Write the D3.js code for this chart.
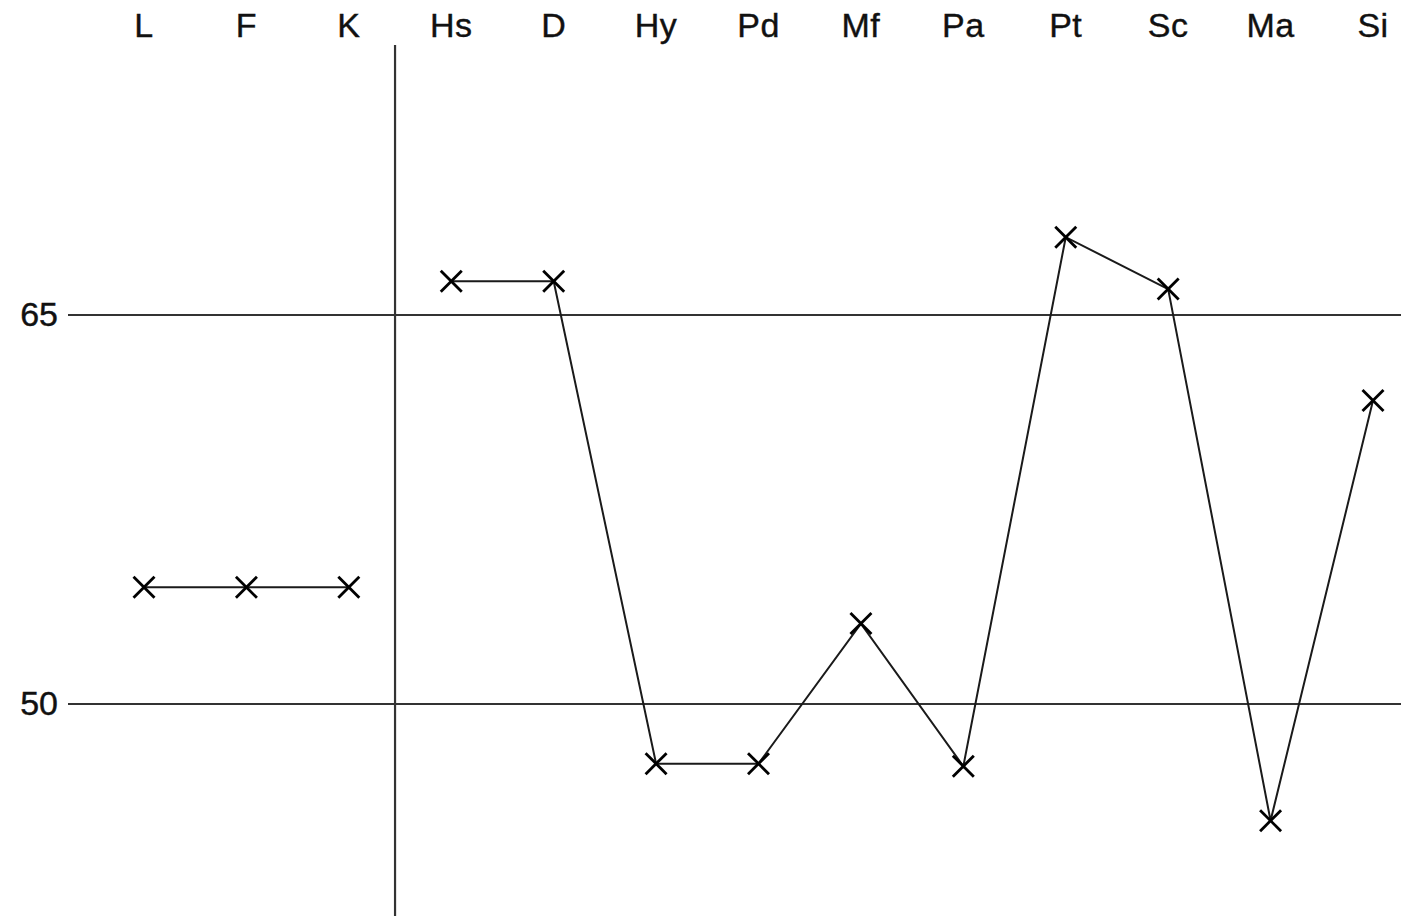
<!DOCTYPE html>
<html>
<head>
<meta charset="utf-8">
<script src="https://cdn.jsdelivr.net/npm/d3@7"></script>
<style>
  html, body { margin: 0; padding: 0; background: #fff; }
  svg { display: block; }
  text { font-family: "Liberation Sans", Arial, sans-serif; }
</style>
</head>
<body>
<div id="chart"></div>
<script>
// Data
const validityScales = ["L", "F", "K"];
const validityValues = [54.5, 54.5, 54.5];
const clinicalScales = ["Hs", "D", "Hy", "Pd", "Mf", "Pa", "Pt", "Sc", "Ma", "Si"];
const clinicalValues = [66.3, 66.3, 47.7, 47.7, 53.1, 47.6, 68.0, 66.0, 45.5, 61.7];
const yTicks = [50, 65];

const W = 1401, H = 916;
const svg = d3.select("#chart").append("svg").attr("width", W).attr("height", H);

const allScales = validityScales.concat(clinicalScales);
const x = d3.scalePoint().domain(allScales).range([144, 1373]);
const y = d3.scaleLinear().domain([50, 65]).range([704, 315]);

const gridColor = "#333";

// Horizontal reference lines
svg.append("g").selectAll("line").data(yTicks).join("line")
  .attr("x1", 68).attr("x2", W)
  .attr("y1", d => y(d)).attr("y2", d => y(d))
  .attr("stroke", gridColor).attr("stroke-width", 2.2);

// Y tick labels
svg.append("g").selectAll("text").data(yTicks).join("text")
  .attr("x", 58).attr("y", d => y(d)).attr("dy", "0.33em")
  .attr("text-anchor", "end")
  .attr("font-size", 34).attr("fill", "#111")
  .attr("stroke", "#111").attr("stroke-width", 0.4)
  .text(d => d);

// Divider between validity and clinical scales
const divX = (x("K") + x("Hs")) / 2 - 5;
svg.append("line")
  .attr("x1", divX).attr("x2", divX).attr("y1", 45).attr("y2", H)
  .attr("stroke", gridColor).attr("stroke-width", 2.2);

// Top category labels
svg.append("g").selectAll("text").data(allScales).join("text")
  .attr("x", d => x(d)).attr("y", 37)
  .attr("text-anchor", "middle")
  .attr("font-size", 34).attr("fill", "#111")
  .attr("stroke", "#111").attr("stroke-width", 0.4)
  .attr("textLength", null)
  .style("letter-spacing", "0.5px")
  .text(d => d);

const line = d3.line().x(d => x(d.k)).y(d => y(d.v));
const groups = [
  validityScales.map((k, i) => ({ k, v: validityValues[i] })),
  clinicalScales.map((k, i) => ({ k, v: clinicalValues[i] }))
];

groups.forEach(g => {
  svg.append("path").datum(g)
    .attr("d", line)
    .attr("fill", "none")
    .attr("stroke", "#1a1a1a").attr("stroke-width", 2);
});

// X markers
const s = 10.5;
const pts = groups.flat();
const mk = svg.append("g").selectAll("g").data(pts).join("g")
  .attr("transform", d => `translate(${x(d.k)},${y(d.v)})`);
mk.append("line").attr("x1", -s).attr("y1", -s).attr("x2", s).attr("y2", s)
  .attr("stroke", "#000").attr("stroke-width", 2.8);
mk.append("line").attr("x1", -s).attr("y1", s).attr("x2", s).attr("y2", -s)
  .attr("stroke", "#000").attr("stroke-width", 2.8);
</script>
</body>
</html>
